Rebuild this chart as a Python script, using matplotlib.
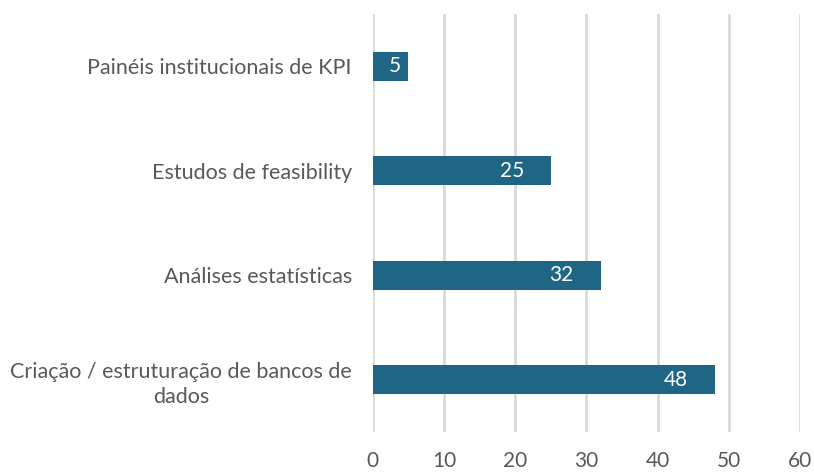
import matplotlib
matplotlib.use('Agg')
import matplotlib.pyplot as plt

categories = ['Criação / estruturação de bancos de\ndados', 'Análises estatísticas',
              'Estudos de feasibility', 'Painéis institucionais de KPI']
values = [48, 32, 25, 5]
xticks = [0, 10, 20, 30, 40, 50, 60]

bar_color = '#1f6585'
text_color = '#595959'
plt.rcParams['font.family'] = ['Lato', 'DejaVu Sans']

fig = plt.figure(figsize=(8.14, 4.73), dpi=100)
ax = fig.add_axes([0.458, 0.087, 0.525, 0.883])

y = range(len(categories))
ax.barh(y, values, height=0.28, color=bar_color, zorder=3)
ax.set_xlim(0, 60)
ax.set_ylim(-0.5, 3.5)
ax.set_xticks(xticks)
ax.set_yticks(list(y))
ax.set_yticklabels(categories, multialignment='center', linespacing=1.35)
ax.tick_params(axis='y', length=0, labelsize=15.5, labelcolor=text_color, pad=15)
ax.tick_params(axis='x', length=0, labelsize=15, labelcolor=text_color, pad=14)
ax.grid(axis='x', color='#d9d9d9', linewidth=2, zorder=0)
for s in ax.spines.values():
    s.set_visible(False)

# rótulos de valor dentro da barra
for yi, v in zip(y, values):
    if v < 10:
        ax.text(v / 2 + 0.6, yi, str(v), color='white', fontsize=15,
                ha='center', va='center', zorder=4)
    else:
        ax.annotate(str(v), (v, yi), xytext=(-27, 0), textcoords='offset pixels',
                    color='white', fontsize=15, ha='right', va='center', zorder=4)

fig.savefig('out.png', dpi=100)
